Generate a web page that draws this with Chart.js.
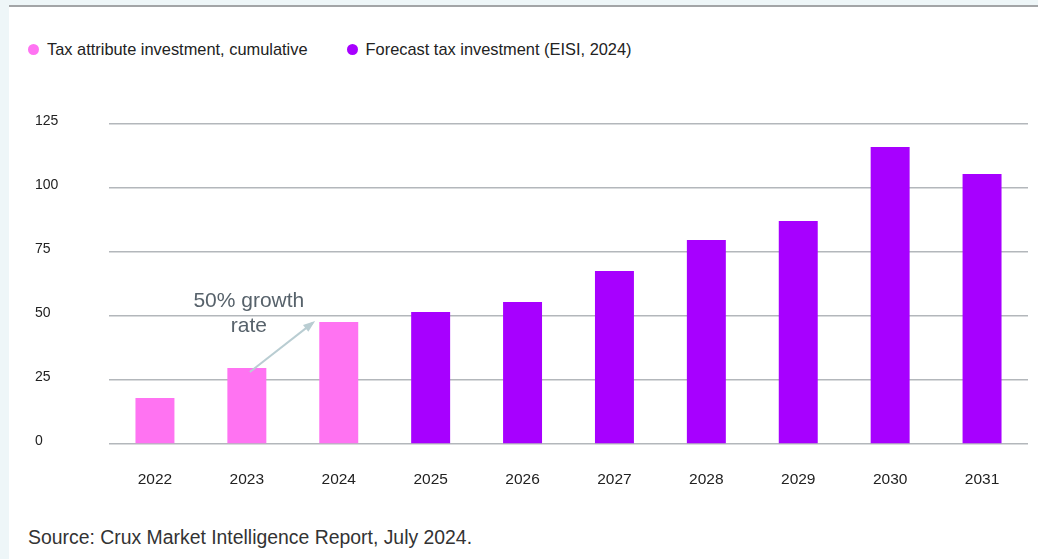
<!DOCTYPE html>
<html lang="en">
<head>
  <meta charset="UTF-8" />
  <title>Tax investment</title>
  <style>
    body {
      margin: 0;
      width: 1038px;
      height: 559px;
      background: #eef6f8;
      font-family: "Liberation Sans", Arial, sans-serif;
      overflow: hidden;
      position: relative;
    }
    .panel {
      position: absolute;
      left: 9px;
      top: 5px;
      right: 0;
      bottom: 0;
      background: #fff;
      border-top: 2px solid #a3a5a7;
    }
    .legend {
      position: absolute;
      left: 28px;
      top: 40px;
      display: flex;
      font-size: 16.4px;
      color: #222;
    }
    .legend span.item {
      display: flex;
      align-items: center;
      margin-right: 39px;
    }
    .legend i {
      display: inline-block;
      width: 11px;
      height: 11px;
      border-radius: 50%;
      margin-right: 8px;
    }
    .chart-box {
      position: absolute;
      left: 9px;
      top: 90px;
      width: 1029px;
      height: 410px;
    }
    .source {
      position: absolute;
      left: 28px;
      top: 526px;
      font-size: 19.4px;
      color: #333;
    }
  </style>
</head>
<body>
  <div class="panel"></div>
  <div class="legend" id="legend"></div>
  <div class="chart-box"><canvas id="barChart"></canvas></div>
  <div class="source">Source: Crux Market Intelligence Report, July 2024.</div>

  <script src="https://cdn.jsdelivr.net/npm/chart.js"></script>
  <script>
    const years = ['2022', '2023', '2024', '2025', '2026', '2027', '2028', '2029', '2030', '2031'];
    const cumulative = [18, 29.7, 47.7, null, null, null, null, null, null, null];
    const forecast = [null, null, null, 51.6, 55.5, 67.6, 79.7, 87.1, 116, 105.5];
    const yTicks = [0, 25, 50, 75, 100, 125];
    const seriesNames = ['Tax attribute investment, cumulative', 'Forecast tax investment (EISI, 2024)'];
    const colors = ['#ff73f2', '#a700ff'];

    // legend (html)
    const legend = document.getElementById('legend');
    seriesNames.forEach((name, i) => {
      const item = document.createElement('span');
      item.className = 'item';
      item.innerHTML = '<i style="background:' + colors[i] + '"></i>' + name;
      legend.appendChild(item);
    });

    // growth annotation + arrow
    const growthNote = {
      id: 'growthNote',
      afterDatasetsDraw(chart) {
        const { ctx, scales: { x, y } } = chart;
        const x0 = x.getPixelForValue(1) + 3;
        const y0 = y.getPixelForValue(cumulative[1]) + 4;
        const x1 = x.getPixelForValue(2) - 26;
        const y1 = y.getPixelForValue(cumulative[2]) + 1;
        ctx.save();
        ctx.strokeStyle = '#b9cdd2';
        ctx.fillStyle = '#b9cdd2';
        ctx.lineWidth = 2;
        ctx.beginPath();
        ctx.moveTo(x0, y0);
        ctx.lineTo(x1, y1);
        ctx.stroke();
        const ang = Math.atan2(y1 - y0, x1 - x0);
        ctx.beginPath();
        ctx.moveTo(x1 + 3 * Math.cos(ang), y1 + 3 * Math.sin(ang));
        ctx.lineTo(x1 - 10 * Math.cos(ang - 0.45), y1 - 10 * Math.sin(ang - 0.45));
        ctx.lineTo(x1 - 10 * Math.cos(ang + 0.45), y1 - 10 * Math.sin(ang + 0.45));
        ctx.closePath();
        ctx.fill();

        const top = y.getPixelForValue(cumulative[1]);
        const cx = x.getPixelForValue(1) + 2;
        ctx.fillStyle = '#57626b';
        ctx.font = '21px "Liberation Sans", Arial, sans-serif';
        ctx.textAlign = 'center';
        ctx.textBaseline = 'middle';
        ctx.fillText('50% growth', cx, top - 67);
        ctx.fillText('rate', cx, top - 42);
        ctx.restore();
      }
    };

    const ctx = document.getElementById('barChart').getContext('2d');
    const barChart = new Chart(ctx, {
      type: 'bar',
      data: {
        labels: years,
        datasets: [
          { label: seriesNames[0], data: cumulative, backgroundColor: colors[0] },
          { label: seriesNames[1], data: forecast, backgroundColor: colors[1] }
        ]
      },
      options: {
        responsive: true,
        maintainAspectRatio: false,
        animation: false,
        layout: { padding: { left: 26, right: 10, top: 34, bottom: 0 } },
        datasets: {
          bar: { categoryPercentage: 1, barPercentage: 0.424 }
        },
        plugins: {
          legend: { display: false },
          tooltip: { enabled: false }
        },
        scales: {
          x: {
            stacked: true,
            grid: { display: false, drawTicks: false },
            border: { display: false },
            ticks: {
              padding: 26,
              color: '#222',
              font: { family: '"Liberation Sans", Arial, sans-serif', size: 15.5 }
            },
            afterFit(scale) { scale.height = 56; }
          },
          y: {
            stacked: true,
            min: 0,
            max: 125,
            afterBuildTicks(scale) { scale.ticks = yTicks.map(v => ({ value: v })); },
            grid: { color: '#b3b7bb', lineWidth: 1.5, drawTicks: false },
            border: { display: false },
            ticks: {
              crossAlign: 'far',
              labelOffset: -3,
              color: '#222',
              font: { family: '"Liberation Sans", Arial, sans-serif', size: 14 }
            },
            afterFit(scale) { scale.width = 74; }
          }
        }
      },
      plugins: [growthNote]
    });
  </script>
</body>
</html>
